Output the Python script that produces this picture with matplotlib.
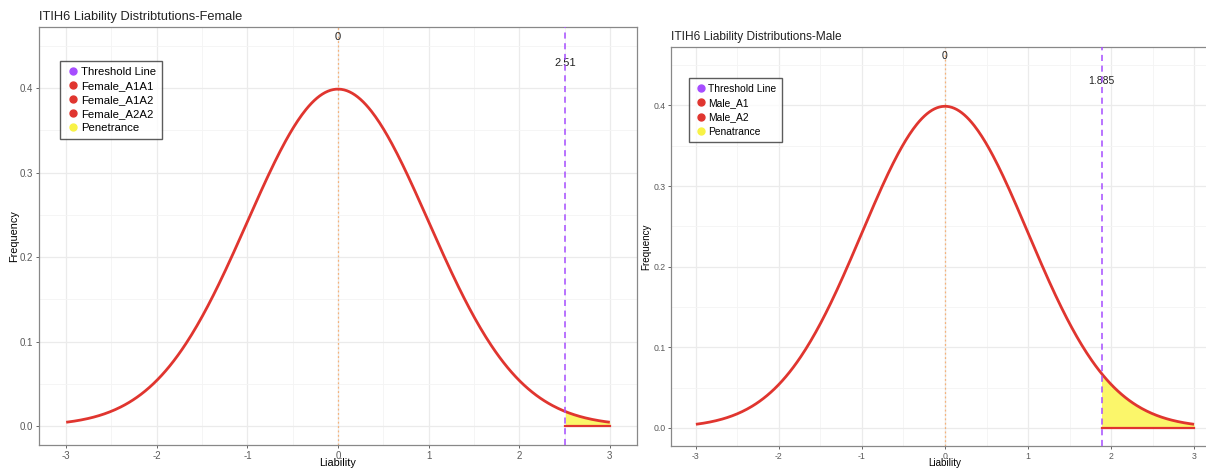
import numpy as np
import matplotlib.pyplot as plt
from matplotlib.lines import Line2D

# liability distribution parameters (standard normal) and thresholds
liab_mean = 0.0
liab_sd = 1.0
liab_lo, liab_hi = -3.0, 3.0
female_threshold = 2.51
male_threshold = 1.885

female_title = "ITIH6 Liability Distribtutions-Female"
male_title = "ITIH6 Liability Distributions-Male"
female_legend = ["Threshold Line", "Female_A1A1", "Female_A1A2", "Female_A2A2", "Penetrance"]
male_legend = ["Threshold Line", "Male_A1", "Male_A2", "Penatrance"]

x_ticks = [-3, -2, -1, 0, 1, 2, 3]
y_ticks = [0.0, 0.1, 0.2, 0.3, 0.4]

RED = "#e0352f"
PURPLE = "#a64dff"
YELLOW = "#fbf66a"
ORANGE = "#f5b27a"

plt.rcParams["font.family"] = ["Liberation Sans", "DejaVu Sans"]

W, H = 1206, 468
fig = plt.figure(figsize=(W / 100, H / 100), dpi=100)


def dnorm(x):
    return np.exp(-0.5 * ((x - liab_mean) / liab_sd) ** 2) / (liab_sd * np.sqrt(2 * np.pi))


def px_axes(left, top, right, bottom):
    return fig.add_axes([left / W, 1 - bottom / H, (right - left) / W, (bottom - top) / H])


def draw_panel(ax, threshold, title, labels, fs, label_size, leg_size, legend_pos,
               ylab_x, xlab_y, leg_spacing):
    xs = np.linspace(liab_lo, liab_hi, 400)
    ax.set_xticks(x_ticks)
    ax.set_yticks(y_ticks)
    ax.set_xticklabels([str(t) for t in x_ticks])
    ax.set_yticklabels(["%.1f" % t for t in y_ticks])
    ax.set_xticks(np.arange(-2.5, 2.6, 1.0), minor=True)
    ax.set_yticks(np.arange(0.05, 0.46, 0.1), minor=True)
    ax.set_xlim(-3.3, 3.3)
    ax.set_ylim(-0.0225, 0.4725)
    ax.grid(True, which="major", color="#ebebeb", lw=0.9)
    ax.grid(True, which="minor", color="#f4f4f4", lw=0.6)
    ax.set_axisbelow(True)
    ax.tick_params(which="major", labelsize=fs, colors="#4d4d4d", length=2.5, width=0.6,
                   labelcolor="#5a5a5a", pad=1.5)
    ax.tick_params(which="minor", length=0)
    for s in ax.spines.values():
        s.set_color("#888888")
        s.set_linewidth(0.9)

    # penetrance: area above the threshold
    xf = np.linspace(threshold, liab_hi, 100)
    ax.fill_between(xf, 0, dnorm(xf), color=YELLOW, lw=0, zorder=2)
    ax.plot([threshold, liab_hi], [0, 0], color=RED, lw=1.6, zorder=3)
    ax.plot(xs, dnorm(xs), color=RED, lw=2.0, zorder=4, solid_capstyle="butt")

    ax.axvline(liab_mean, color=ORANGE, lw=0.9, ls=(0, (1.5, 2)), zorder=1)
    ax.axvline(threshold, color=PURPLE, lw=1.1, ls=(0, (4, 3)), zorder=5)
    ax.text(liab_mean, 0.461, "0", ha="center", va="center", fontsize=label_size,
            color="#222222")
    ax.text(threshold, 0.43, ("%g" % threshold), ha="center", va="center",
            fontsize=label_size, color="#222222")

    ax.set_title(title, loc="left", fontsize=fs + 2.3, pad=5, color="#222222")
    ax.set_xlabel("Liability", fontsize=fs + 0.8, va="top")
    ax.xaxis.set_label_coords(0.5, xlab_y)
    ax.set_ylabel("Frequency", fontsize=fs + 0.8, va="center")
    ax.yaxis.set_label_coords(ylab_x, 0.5)

    colors = [PURPLE] + [RED] * (len(labels) - 2) + ["#f8f246"]
    handles = [Line2D([], [], ls="", marker="o", ms=5, color=c, mec=c) for c in colors]
    leg = ax.legend(handles, labels, loc="upper left", bbox_to_anchor=legend_pos,
                    fontsize=leg_size, frameon=True, fancybox=False, handletextpad=0.1,
                    labelspacing=leg_spacing, borderpad=0.55, handlelength=1.2,
                    borderaxespad=0)
    leg.get_frame().set_edgecolor("#333333")
    leg.get_frame().set_linewidth(1.0)


ax1 = px_axes(39, 27, 637, 445)
draw_panel(ax1, female_threshold, female_title, female_legend, 7.0, 8.0, 8.2,
           (21 / 598, 1 - 34 / 418), -0.042, -13.5 / 418, 0.34)

ax2 = px_axes(671, 47, 1219, 446)
draw_panel(ax2, male_threshold, male_title, male_legend, 6.3, 7.5, 7.4,
           (18 / 548, 1 - 31 / 399), -0.045, -12.5 / 399, 0.42)

fig.savefig("out.png", dpi=100)
